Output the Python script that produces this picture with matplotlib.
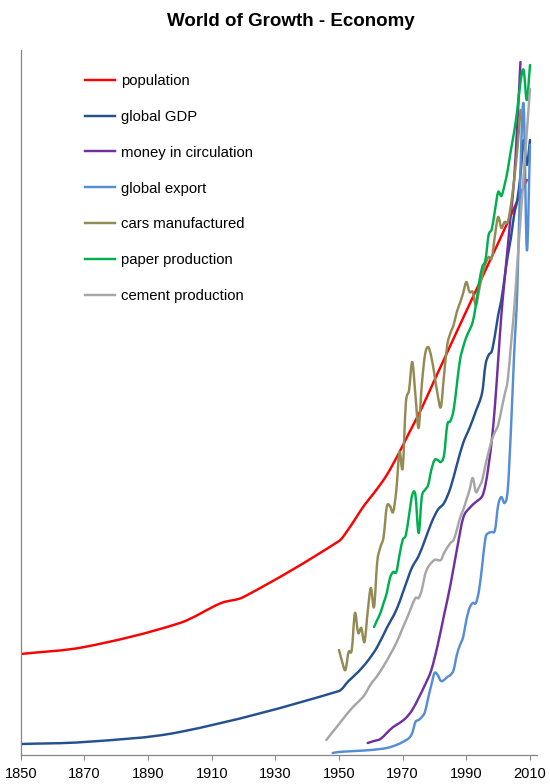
import numpy as np
import matplotlib
matplotlib.use('Agg')
import matplotlib.pyplot as plt
from matplotlib.path import Path
from matplotlib.patches import PathPatch
from matplotlib.lines import Line2D

plt.rcParams['font.family'] = ['Liberation Sans', 'DejaVu Sans']

# values, relative index (no y scale in the original)
pop_years = [1850, 1870, 1900, 1913, 1920, 1950, 1953, 1958, 1961, 1965, 1969, 1972, 1976,
             1980, 1990, 2000, 2009]
pop_vals = [101, 108, 132, 152, 158, 214, 226, 250, 262, 280, 303, 322, 347, 375, 444, 512, 575]

gdp_years = [1850, 1870, 1900, 1950, 1953, 1956, 1959, 1962, 1965, 1968, 1970, 1972, 1973,
             1975, 1977, 1979, 1981, 1983, 1985, 1987, 1989, 1991, 1993, 1995, 1996, 1997,
             1998, 1999, 2000, 2001, 2002, 2003, 2004, 2005, 2006, 2007, 2008, 2009, 2010]
gdp_vals = [11, 13, 23, 64, 74, 83, 94, 108, 127, 145, 162, 180, 188, 199, 215, 232, 245, 252,
            267, 290, 312, 327, 344, 363, 390, 400, 404, 420, 440, 455, 477, 499, 517, 540,
            555, 580, 615, 590, 615]

money_years = [1959, 1961, 1963, 1965, 1967, 1969, 1971, 1973, 1975, 1977, 1979, 1981, 1983,
               1985, 1987, 1989, 1991, 1993, 1995, 1996, 1997, 1998, 1999, 2000, 2001, 2002,
               2003, 2004, 2005, 2006, 2007]
money_vals = [12, 14, 16, 22, 28, 32, 37, 45, 57, 70, 85, 110, 140, 170, 205, 237, 247, 253,
              259, 270, 290, 315, 350, 395, 440, 475, 508, 542, 575, 630, 693]

export_years = [1948, 1950, 1955, 1960, 1965, 1968, 1970, 1972, 1973, 1974, 1975, 1976, 1977,
                1978, 1979, 1980, 1981, 1982, 1983, 1984, 1985, 1986, 1987, 1988, 1989, 1990,
                1991, 1992, 1993, 1994, 1995, 1996, 1997, 1998, 1999, 2000, 2001, 2002, 2003,
                2004, 2005, 2006, 2007, 2008, 2009, 2010]
export_vals = [2, 3, 4, 5, 7, 10, 13, 17, 22, 33, 35, 38, 43, 57, 70, 82, 80, 74, 75, 78, 80,
               85, 100, 110, 118, 135, 147, 152, 152, 165, 190, 217, 222, 223, 225, 250, 258,
               252, 265, 325, 400, 465, 585, 650, 505, 610]

cars_years = list(range(1950, 2008))
cars_vals = [105, 93, 85, 103, 105, 142, 122, 127, 113, 143, 167, 148, 193, 208, 218, 248,
             249, 243, 265, 303, 287, 352, 365, 393, 360, 327, 370, 400, 408, 398, 380, 360,
             348, 380, 410, 422, 430, 443, 452, 462, 473, 463, 463, 450, 465, 480, 491, 498,
             497, 520, 538, 527, 533, 533, 550, 575, 605, 645]

paper_years = list(range(1961, 2011))
paper_vals = [128, 135, 142, 152, 162, 177, 183, 183, 200, 215, 220, 240, 260, 260, 222, 258,
              265, 270, 285, 295, 295, 293, 300, 330, 334, 345, 370, 395, 408, 418, 425, 433,
              450, 472, 488, 495, 520, 526, 545, 563, 559, 570, 585, 605, 623, 645, 673, 685,
              655, 690]

cement_years = [1946, 1948, 1950, 1951, 1953, 1955, 1956, 1958, 1960, 1962, 1964, 1966, 1968,
                1970, 1972, 1974, 1975, 1976, 1977, 1978, 1980, 1982, 1983, 1985, 1986, 1987,
                1988, 1989, 1990, 1991, 1992, 1993, 1994, 1995, 1996, 1997, 1998, 1999, 2000,
                2001, 2002, 2003, 2004, 2005, 2006, 2007, 2008, 2009, 2010]
cement_vals = [15, 23, 31, 35, 43, 50, 53, 60, 71, 79, 89, 100, 112, 127, 142, 157, 157, 165,
               180, 188, 195, 195, 202, 212, 215, 225, 237, 245, 255, 265, 277, 263, 268, 275,
               290, 303, 315, 323, 330, 345, 360, 375, 410, 445, 491, 535, 579, 623, 666]

series = [
    ('population', pop_years, pop_vals, '#FF0000'),
    ('global GDP', gdp_years, gdp_vals, '#25508F'),
    ('money in circulation', money_years, money_vals, '#7030A0'),
    ('global export', export_years, export_vals, '#558ED5'),
    ('cars manufactured', cars_years, cars_vals, '#948A54'),
    ('paper production', paper_years, paper_vals, '#00B050'),
    ('cement production', cement_years, cement_vals, '#A6A6A6'),
]


def smooth_path(x, y):
    # cubic hermite through the points, like excel's "smoothed line"
    x = np.asarray(x, float)
    y = np.asarray(y, float)
    d = np.empty(len(x))
    d[0] = (y[1] - y[0]) / (x[1] - x[0])
    d[-1] = (y[-1] - y[-2]) / (x[-1] - x[-2])
    d[1:-1] = (y[2:] - y[:-2]) / (x[2:] - x[:-2])
    verts = [(x[0], y[0])]
    codes = [Path.MOVETO]
    for i in range(len(x) - 1):
        h = x[i + 1] - x[i]
        verts += [(x[i] + h / 3, y[i] + d[i] * h / 3),
                  (x[i + 1] - h / 3, y[i + 1] - d[i + 1] * h / 3),
                  (x[i + 1], y[i + 1])]
        codes += [Path.CURVE4] * 3
    return Path(verts, codes)


fig = plt.figure(figsize=(5.5, 7.84), dpi=100)
ax = fig.add_axes([20.7 / 550, 29 / 784, 516 / 550, 705 / 784])

handles = []
for label, yrs, vals, col in series:
    ax.add_patch(PathPatch(smooth_path(yrs, vals), fill=False, edgecolor=col, lw=1.75,
                           capstyle='round', joinstyle='round'))
    handles.append(Line2D([], [], color=col, lw=1.75, label=label))

ax.set_xlim(1850, 2012.1)
ax.set_ylim(0, 705)
ax.set_xticks(range(1850, 2011, 20))
ax.set_yticks([])
ax.tick_params(axis='x', direction='out', length=3.6, width=0.75, color='#868686',
               labelsize=10.5, pad=4.8)
for s in ['top', 'right']:
    ax.spines[s].set_visible(False)
for s in ['left', 'bottom']:
    ax.spines[s].set_color('#868686')
    ax.spines[s].set_linewidth(0.9)

ax.legend(handles=handles, loc='upper left', bbox_to_anchor=(85 / 550, 1 - 74 / 784),
          bbox_transform=fig.transFigure, frameon=False, fontsize=10.7, handlelength=2.0,
          handletextpad=0.4, labelspacing=1.47, borderpad=0, borderaxespad=0)

fig.text(291 / 550, 1 - 21 / 784, 'World of Growth - Economy', ha='center', va='center',
         fontsize=13.5, fontweight='bold')

fig.savefig('out.png', dpi=100)
